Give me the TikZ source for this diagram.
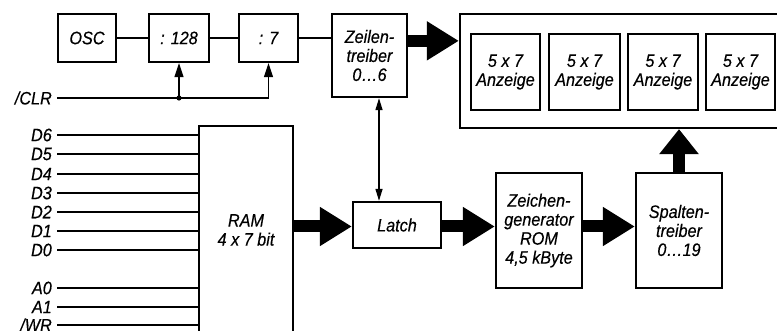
\documentclass[tikz,border=0pt]{standalone}
\usepackage{fontspec}
\setmainfont{Liberation Sans}[FakeStretch=0.9,FakeBold=0.4]
\usetikzlibrary{arrows.meta,calc}
\tikzset{
  txt/.style={font=\fontsize{18}{19}\selectfont\itshape},
  blk/.style={draw, line width=2.3pt, txt, align=center, inner sep=0pt},
  thin/.style={line width=1.4pt},
  bigarrow/.style={line width=12pt, -{Triangle[length=32pt,width=37pt]}},
  smallarrow/.style={thin, -{Triangle[length=14pt,width=9pt]}},
  dblarrow/.style={thin, {Triangle[length=12pt,width=7pt]}-{Triangle[length=12pt,width=7pt]}},
  lbl/.style={txt, anchor=east, inner sep=0pt}
}
\begin{document}
\begin{tikzpicture}[x=1pt,y=-1pt]
\useasboundingbox (0,0) rectangle (777,331);
% top chain
\node[blk, minimum width=58pt, minimum height=48pt] (osc) at (87,38) {OSC};
\node[blk, minimum width=60pt, minimum height=48pt] (d128) at (179,38) {: 128};
\node[blk, minimum width=59pt, minimum height=48pt] (d7) at (268.5,38) {: 7};
\node[blk, minimum width=75pt, minimum height=83pt] (zt) at (369.5,55.5) {Zeilen-\\treiber\\0…6};
% display
\node[blk, minimum width=330pt, minimum height=114pt] (disp) at (625,71) {};
\node[blk, minimum width=69pt, minimum height=76pt] (a1) at (505.5,72) {5 x 7\\Anzeige};
\node[blk, minimum width=71pt, minimum height=76pt] (a2) at (584.5,72) {5 x 7\\Anzeige};
\node[blk, minimum width=70pt, minimum height=76pt] (a3) at (663,72) {5 x 7\\Anzeige};
\node[blk, minimum width=69pt, minimum height=76pt] (a4) at (740.5,72) {5 x 7\\Anzeige};
% lower chain
\node[blk, minimum width=94pt, minimum height=208pt] (ram) at (246,230) {RAM\\4 x 7 bit};
\node[blk, minimum width=88pt, minimum height=46pt] (latch) at (397,225) {Latch};
\node[blk, minimum width=86pt, minimum height=115pt] (rom) at (539,230.5) {Zeichen-\\generator\\ROM\\4,5 kByte};
\node[blk, minimum width=86pt, minimum height=115pt] (sp) at (679,230.5) {Spalten-\\treiber\\0…19};
% top chain lines
\draw[thin] (osc.east) -- (d128.west);
\draw[thin] (d128.east) -- (d7.west);
\draw[thin] (d7.east) -- (d7.east -| zt.west);
% CLR
\node[lbl] (clr) at (52,98) {/CLR};
\coordinate (clrs) at (57,98);
\coordinate (j1) at (179,98);
\coordinate (j2) at (268.5,98);
\draw[thin] (clrs) -- (j2);
\draw[smallarrow] (j1) -- (d128.south);
\draw[smallarrow] (j2) -- (d7.south);
\fill (j1) circle (2.6pt);
% data/address lines
\foreach \n/\y in {D6/135,D5/154,D4/174,D3/193,D2/212,D1/231,D0/250,A0/288,A1/307,{{/WR}}/325}{
  \node[lbl] (l\y) at (52,\y) {\n};
  \coordinate (s\y) at (57,\y);
  \draw[thin] (s\y) -- (s\y -| ram.west);
}
% big arrows
\draw[bigarrow] ([yshift=-28pt]zt.north east) -- ([yshift=-28pt]disp.north west);
\draw[bigarrow] (ram.east |- 0,226.5) -- (latch.west |- 0,226.5);
\draw[bigarrow] (latch.east |- 0,226.5) -- (rom.west |- 0,226.5);
\draw[bigarrow] (rom.east |- 0,226.5) -- (sp.west |- 0,226.5);
\draw[line width=12pt, -{Triangle[length=25pt,width=38pt]}] (sp.north) -- (sp.north |- disp.south);
% latch <-> zeilentreiber
\draw[dblarrow] (zt.south -| 379,0) -- (latch.north -| 379,0);
\end{tikzpicture}
\end{document}
